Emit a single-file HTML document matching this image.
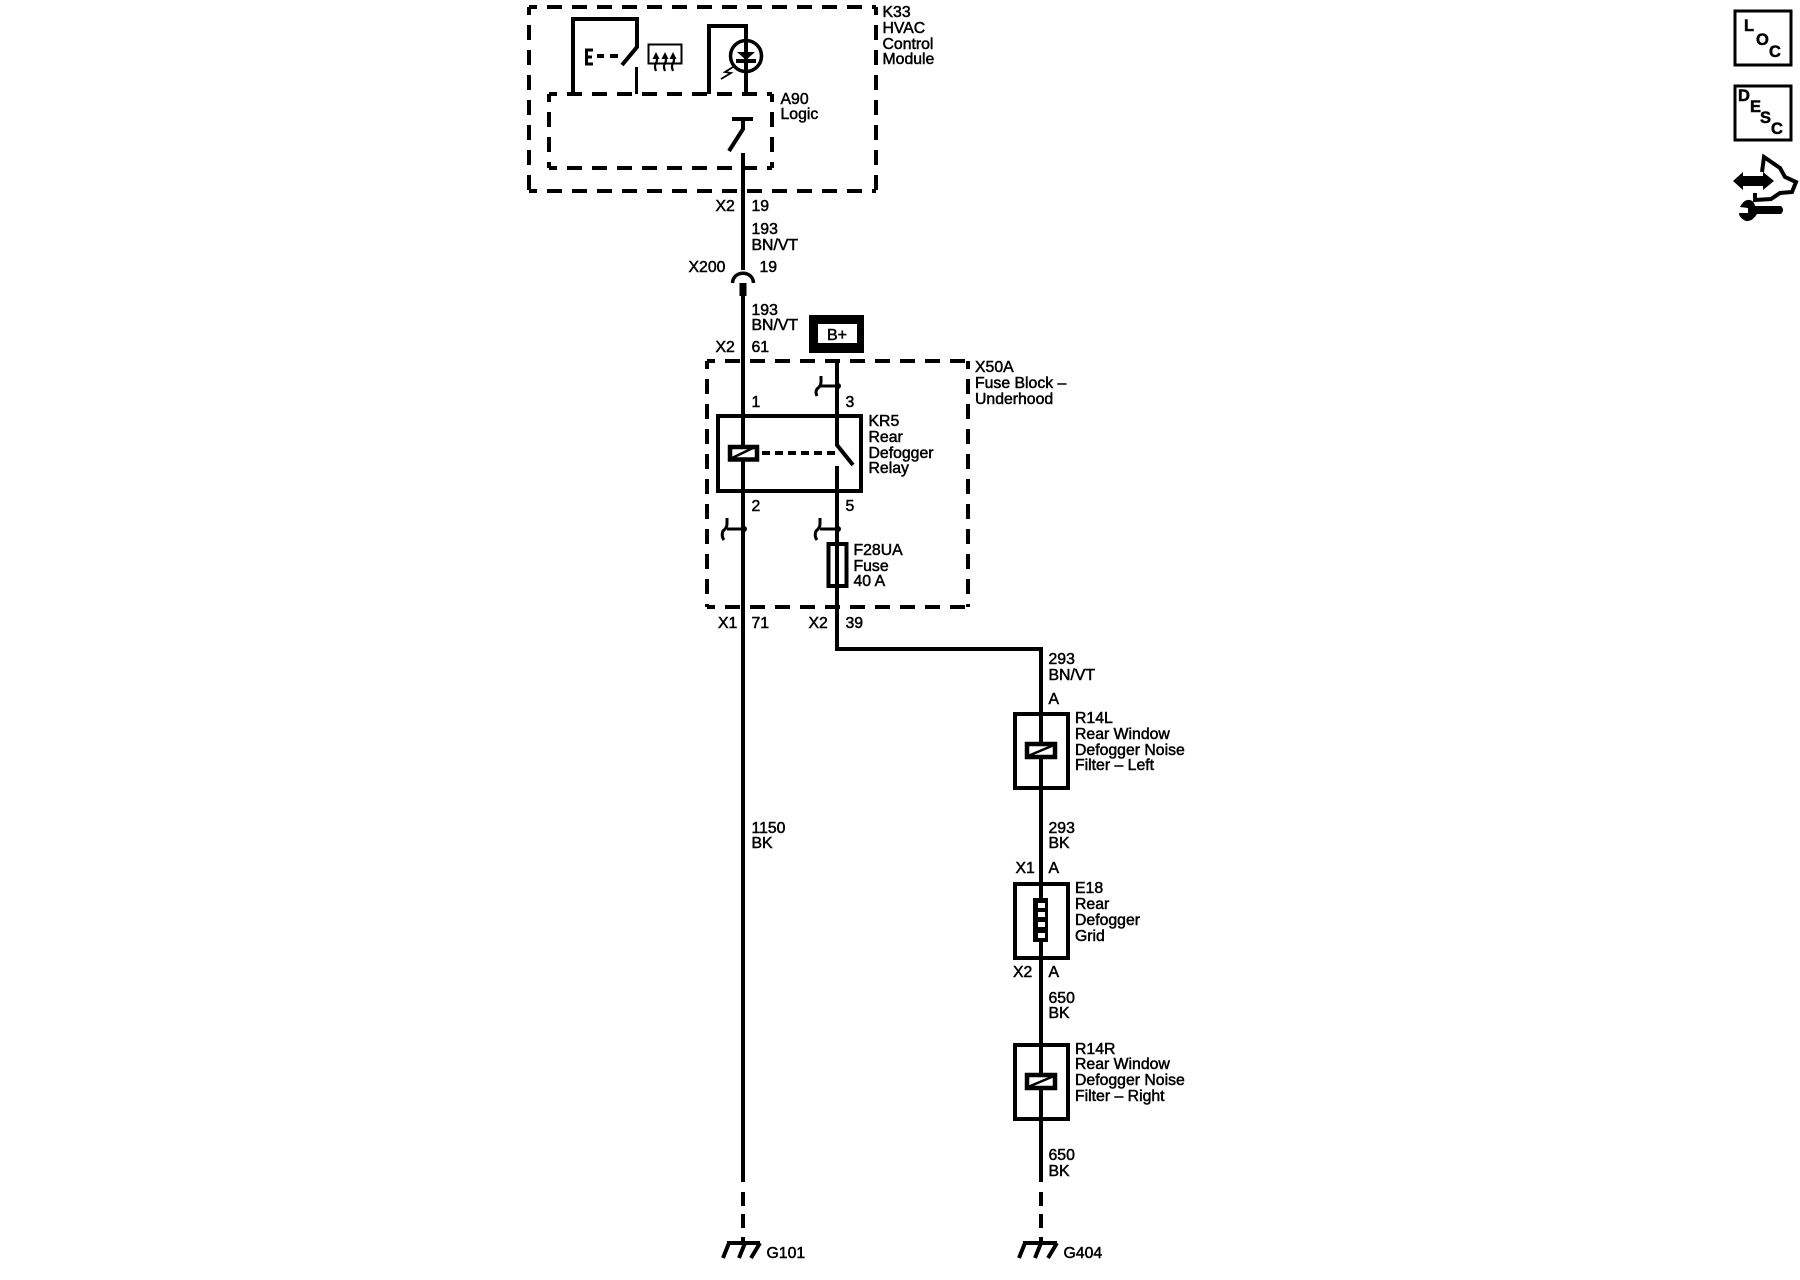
<!DOCTYPE html>
<html><head><meta charset="utf-8"><style>
html,body{margin:0;padding:0;background:#fff}
svg{display:block}
text{font-family:"Liberation Sans",sans-serif;font-size:15.8px;fill:#000;stroke:#000;stroke-width:.5px}
.w{fill:none;stroke:#000;stroke-width:4}
.t{fill:none;stroke:#000;stroke-width:3}
.d{fill:none;stroke:#000;stroke-width:4;stroke-dasharray:15 10;stroke-dashoffset:7}
.i{font-weight:bold;font-size:16.500px}
</style></head><body>
<svg width="1800" height="1280" viewBox="0 0 1800 1280" xmlns="http://www.w3.org/2000/svg">
<rect width="1800" height="1280" fill="#fff"/>
<!-- K33 -->
<path class="d" d="M529 7H876"/><path class="d" d="M529 191H876"/>
<path class="d" d="M529 7V191"/><path class="d" d="M876 7V191"/>
<path class="d" d="M549 94H772"/><path class="d" d="M549 168H772"/>
<path class="d" d="M549 94V168"/><path class="d" d="M772 94V168"/>
<path class="w" d="M573 94V19H637V47L622 65"/>
<path class="t" d="M636.500 67V94"/>
<path class="t" d="M593 50H586.500V64H593M586.500 57H592"/>
<path d="M597 54h7v4h-7zM610 54h8v4h-8z"/>
<rect x="648.500" y="44.500" width="33" height="19" class="t" style="stroke-width:2"/>
<g fill="none" stroke="#000" stroke-width="2.200"><path d="M656 56Q658 60 656 63T656 71M665 56Q667 60 665 63T665 71M673 56Q675 60 673 63T673 71"/></g>
<path d="M656 52l-3.500 7h7zM665 52l-3.500 7h7zM673 52l-3.500 7h7z"/>
<path class="w" d="M709 94V26H746V94"/>
<circle cx="746" cy="56" r="15.500" class="t" style="stroke-width:3.500"/>
<path d="M737 52H755L746 60Z"/><rect x="736" y="59" width="20" height="4"/>
<path fill="none" stroke="#000" stroke-width="1.800" d="M733 67L725 72L731 73L721 79"/>
<path class="w" d="M732 119H753"/>
<path class="w" d="M743 119V129L729 151"/>
<path class="w" d="M743 153V270"/>
<path fill="none" stroke="#000" stroke-width="3.500" d="M732.500 283C733 270 753 270 753.500 283"/>
<rect x="739.500" y="283" width="7" height="13"/>
<path class="w" d="M743 295V1182"/>
<path class="w" d="M743 1192V1206M743 1214V1228M743 1237V1244"/>
<path class="w" d="M727 1243H760"/>
<path class="w" d="M729 1243L723 1258M745 1243L739 1258M760 1243L751 1258"/>
<!-- B+ -->
<path d="M809 315H864V353H809Z M818 324V343H857V324Z" fill-rule="evenodd"/>
<!-- X50A -->
<path class="d" d="M707 361H968"/><path class="d" d="M707 607H968"/>
<path class="d" d="M707 361V607"/><path class="d" d="M968 361V607"/>
<!-- wire 2 -->
<path class="w" d="M837 359V445L853 465"/>
<path class="w" d="M837 466V649H1041V1182"/>
<path class="w" d="M1041 1192V1206M1041 1214V1228M1041 1237V1244"/>
<path class="w" d="M1023 1243H1057"/>
<path class="w" d="M1025 1243L1019 1258M1041 1243L1035 1258M1057 1243L1048 1258"/>
<!-- connectors -->
<path fill="none" stroke="#000" stroke-width="3" d="M837 386H820M821 376V382Q821 386 817 389Q815 392 817 396"/><circle cx="838" cy="386" r="3"/>
<path fill="none" stroke="#000" stroke-width="3" d="M743 529H727M727 518V524Q727 528 723 531Q721 536 724 540"/><circle cx="744" cy="529" r="3"/>
<path fill="none" stroke="#000" stroke-width="3" d="M837 529H820M820 518V524Q820 528 816 531Q814 536 817 540"/><circle cx="838" cy="529" r="3"/>
<!-- KR5 -->
<rect class="w" x="718" y="416" width="143" height="75"/>
<rect x="730" y="447" width="27" height="12.500" fill="#fff" stroke="#000" stroke-width="4.500"/>
<path fill="none" stroke="#000" stroke-width="2.500" d="M730 459L755 447"/>
<path class="w" d="M762 453H770M775 453H783M788 453H796M801 453H809M814 453H822M827 453H835"/>
<!-- fuse -->
<rect class="w" x="828.500" y="544" width="18" height="42"/>
<!-- R14L -->
<rect class="w" x="1015" y="714" width="53" height="74"/>
<rect x="1027" y="744" width="28" height="13" fill="#fff" stroke="#000" stroke-width="4.500"/>
<path fill="none" stroke="#000" stroke-width="2.500" d="M1028 756L1054 745"/>
<path class="w" d="M1041 713V745M1041 757V788"/>
<!-- E18 -->
<rect class="w" x="1015" y="884" width="53" height="74"/>
<rect x="1033" y="898" width="15" height="44"/>
<g fill="#fff"><rect x="1038" y="903" width="7" height="5"/><rect x="1038" y="912" width="7" height="5"/><rect x="1038" y="922" width="7" height="5"/><rect x="1038" y="933" width="7" height="5"/></g>
<!-- R14R -->
<rect class="w" x="1015" y="1045" width="53" height="74"/>
<rect x="1027" y="1075" width="28" height="13" fill="#fff" stroke="#000" stroke-width="4.500"/>
<path fill="none" stroke="#000" stroke-width="2.500" d="M1028 1087L1054 1076"/>
<path class="w" d="M1041 1044V1076M1041 1088V1119"/>
<!-- wire over coil KR5 -->
<path class="w" d="M743 416V447M743 459V491"/>
<!-- labels -->
<text x="882.500" y="17">K33</text><text x="882.500" y="33">HVAC</text><text x="882.500" y="49">Control</text><text x="882.500" y="64">Module</text>
<text x="780.500" y="104">A90</text><text x="780.500" y="119">Logic</text>
<text x="715.500" y="211">X2</text><text x="751.500" y="211">19</text>
<text x="751.500" y="234">193</text><text x="751.500" y="250">BN/VT</text>
<text x="688.500" y="272">X200</text><text x="759.500" y="272">19</text>
<text x="751.500" y="315">193</text><text x="751.500" y="330">BN/VT</text>
<text x="827" y="340" style="font-size:16px">B+</text>
<text x="715.500" y="352">X2</text><text x="751.500" y="352">61</text>
<text x="975" y="372">X50A</text><text x="975" y="388">Fuse Block –</text><text x="975" y="404">Underhood</text>
<text x="751.500" y="407">1</text><text x="845.500" y="407">3</text>
<text x="868.500" y="426">KR5</text><text x="868.500" y="442">Rear</text><text x="868.500" y="458">Defogger</text><text x="868.500" y="473">Relay</text>
<text x="751.500" y="511">2</text><text x="845.500" y="511">5</text>
<text x="853.500" y="555">F28UA</text><text x="853.500" y="571">Fuse</text><text x="853.500" y="586">40 A</text>
<text x="718" y="628">X1</text><text x="751.500" y="628">71</text><text x="808.500" y="628">X2</text><text x="845.500" y="628">39</text>
<text x="1048.500" y="664">293</text><text x="1048.500" y="680">BN/VT</text><text x="1048.500" y="704">A</text>
<text x="1075" y="723">R14L</text><text x="1075" y="739">Rear Window</text><text x="1075" y="755">Defogger Noise</text><text x="1075" y="770">Filter – Left</text>
<text x="751.500" y="833">1150</text><text x="751.500" y="848">BK</text>
<text x="1048.500" y="833">293</text><text x="1048.500" y="848">BK</text>
<text x="1015.500" y="873">X1</text><text x="1048.500" y="873">A</text>
<text x="1075" y="893">E18</text><text x="1075" y="909">Rear</text><text x="1075" y="925">Defogger</text><text x="1075" y="941">Grid</text>
<text x="1013" y="977">X2</text><text x="1048.500" y="977">A</text>
<text x="1048.500" y="1003">650</text><text x="1048.500" y="1018">BK</text>
<text x="1075" y="1054">R14R</text><text x="1075" y="1069">Rear Window</text><text x="1075" y="1085">Defogger Noise</text><text x="1075" y="1101">Filter – Right</text>
<text x="1048.500" y="1160">650</text><text x="1048.500" y="1176">BK</text>
<text x="766.500" y="1258">G101</text><text x="1063.500" y="1258">G404</text>
<!-- side icons -->
<rect class="t" x="1735" y="11" width="56" height="54"/>
<rect class="t" x="1735" y="86" width="56" height="54"/>
<text class="i" x="1744" y="31">L</text><text class="i" x="1756" y="45">O</text><text class="i" x="1769" y="57">C</text>
<text class="i" x="1738" y="101">D</text><text class="i" x="1750" y="112">E</text><text class="i" x="1760" y="123">S</text><text class="i" x="1771" y="134">C</text>
<path d="M1733 181L1743 172V176H1763V172L1774 181L1763 190V186H1743V190Z"/>
<path fill="none" stroke="#000" stroke-width="4" d="M1762 172L1764 157L1780 168L1785 177L1796 182L1792 192L1780 193L1771 199L1755 200V193"/>
<path d="M1755 206H1781Q1785 210 1781 214H1757Q1752 222 1746 221Q1739 218 1739 213L1748 213L1748 208L1740 207Q1744 199 1750 200Q1754 201 1755 206Z"/>
</svg>
</body></html>
